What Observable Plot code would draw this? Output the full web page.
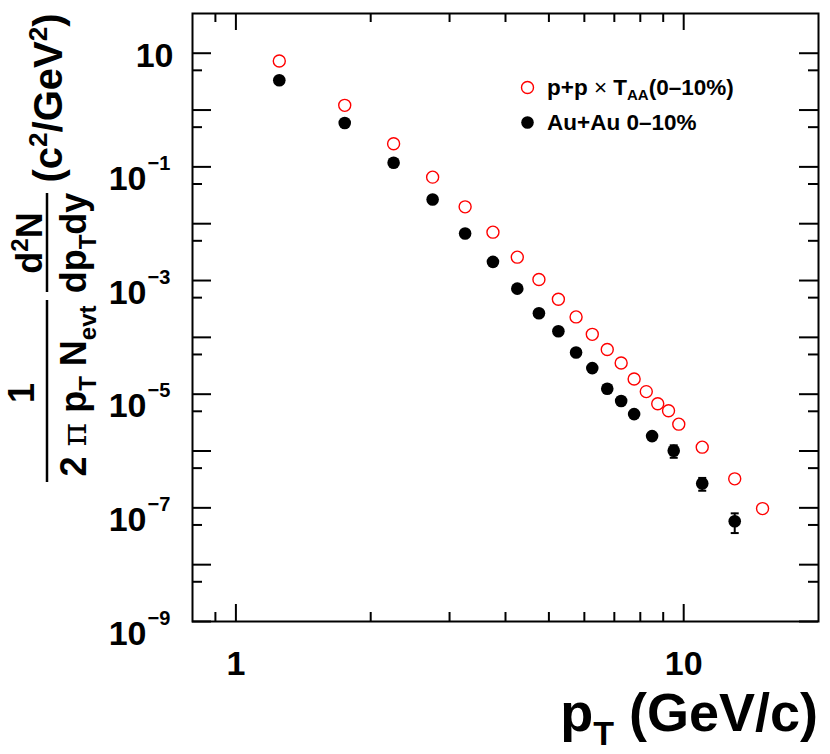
<!DOCTYPE html>
<html><head><meta charset="utf-8">
<script src="https://cdn.jsdelivr.net/npm/d3@7"></script>
<script src="https://cdn.jsdelivr.net/npm/@observablehq/plot@0.6"></script>
<style>body{margin:0;background:#fff}svg{display:block}</style>
</head><body><div id="chart"></div>
<script>
// ---- data ----
const ppPt    = [1.25,1.75,2.25,2.75,3.25,3.75,4.25,4.75,5.25,5.75,6.25,6.75,7.25,7.75,8.25,8.75,9.25,9.75,11,13,15];
const ppYield = [7.3,1.21,0.255,0.066,0.0198,0.0071,0.00258,0.00104,4.68e-4,2.29e-4,1.13e-4,6.1e-5,3.53e-5,1.85e-5,1.11e-5,6.8e-6,5.1e-6,2.97e-6,1.17e-6,3.24e-7,9.7e-8];
const auPt    = [1.25,1.75,2.25,2.75,3.25,3.75,4.25,4.75,5.25,5.75,6.25,6.75,7.25,7.75,8.5,9.5,11,13];
const auYield = [3.34,0.59,0.118,0.0267,0.00673,0.00213,7.2e-4,2.65e-4,1.28e-4,5.4e-5,2.88e-5,1.25e-5,7.6e-6,4.46e-6,1.83e-6,1.01e-6,2.68e-7,5.8e-8];
const auErr   = [0,0,0,0,0,0,0,0,0,0,0,0,0,0,0,2.5e-7,6.8e-8,2.2e-8];
const xMajorTicks = [1,10];
const xMinorTicks = [0.9,2,3,4,5,6,7,8,9];
const xTickLabels = ["1","10"];
const yMajorTicks = [1e-9,1e-8,1e-7,1e-6,1e-5,1e-4,1e-3,1e-2,1e-1,1,10];
const yMinorTicks = [5e-9,5e-8,5e-7,5e-6,5e-5,5e-4,5e-3,5e-2,5e-1,5];
const yLabelExps  = [-9,-7,-5,-3,-1];
const legendLabels = ["p+p × T", "Au+Au 0–10%"];

const pp = ppPt.map((x,i)=>({x, y: ppYield[i]}));
const au = auPt.map((x,i)=>({x, y: auYield[i], e: auErr[i]}));
const auE = au.filter(d=>d.e>0);
const yLab = yLabelExps.map(e=>({v: Math.pow(10,e), sup: "−"+(-e)}));

const W=830, H=754, mL=192, mR=12, mT=13, mB=133;
const fw=W-mL-mR, fh=H-mT-mB;
const FONT="'Liberation Sans', Arial, Helvetica, sans-serif";
const capSym = {draw(c){ c.moveTo(-4,0); c.lineTo(4,0); }};

const chart = Plot.plot({
  width: W, height: H, marginLeft: mL, marginRight: mR, marginTop: mT, marginBottom: mB,
  x: {type:"log", domain:[0.8,20], axis:null},
  y: {type:"log", domain:[1e-9,50], axis:null},
  style: {fontFamily: FONT, fontWeight: "bold", background: "white", overflow: "visible", color: "black"},
  marks: [
    // ticks (inside frame, all four sides)
    Plot.ruleX(xMajorTicks, {x: d=>d, insetTop: fh-17, strokeWidth: 2}),
    Plot.ruleX(xMinorTicks, {x: d=>d, insetTop: fh-9, strokeWidth: 2}),
    Plot.ruleX(xMajorTicks, {x: d=>d, insetBottom: fh-17, strokeWidth: 2}),
    Plot.ruleX(xMinorTicks, {x: d=>d, insetBottom: fh-9, strokeWidth: 2}),
    Plot.ruleY(yMajorTicks, {y: d=>d, insetRight: fw-19, strokeWidth: 2}),
    Plot.ruleY(yMinorTicks, {y: d=>d, insetRight: fw-10, strokeWidth: 2}),
    Plot.ruleY(yMajorTicks, {y: d=>d, insetLeft: fw-19, strokeWidth: 2}),
    Plot.ruleY(yMinorTicks, {y: d=>d, insetLeft: fw-10, strokeWidth: 2}),
    Plot.frame({stroke: "black", strokeWidth: 2}),
    // tick labels
    Plot.text(xMajorTicks, {x: d=>d, frameAnchor: "bottom", dy: 53, lineAnchor: "bottom",
      text: (d,i)=>xTickLabels[i], fontSize: 34, textAnchor: "middle"}),
    Plot.text([10], {y: d=>d, frameAnchor: "left", dx: -19, dy: 14, lineAnchor: "bottom",
      text: ()=>"10", fontSize: 34, textAnchor: "end"}),
    Plot.text(yLab, {y: "v", frameAnchor: "left", dx: -46, dy: 23, lineAnchor: "bottom",
      text: ()=>"10", fontSize: 34, textAnchor: "end"}),
    Plot.text(yLab, {y: "v", frameAnchor: "left", dx: -45, dy: 3, lineAnchor: "bottom",
      text: "sup", fontSize: 20, textAnchor: "start"}),
    // error bars
    Plot.ruleX(auE, {x: "x", y1: d=>d.y-d.e, y2: d=>d.y+d.e, strokeWidth: 2}),
    Plot.dot(auE, {x: "x", y: d=>d.y-d.e, symbol: capSym, stroke: "black", strokeWidth: 2, r: 4}),
    Plot.dot(auE, {x: "x", y: d=>d.y+d.e, symbol: capSym, stroke: "black", strokeWidth: 2, r: 4}),
    // data
    Plot.dot(pp, {x: "x", y: "y", r: 6, stroke: "#ff0000", strokeWidth: 1.4, fill: "none"}),
    Plot.dot(au, {x: "x", y: "y", r: 6.3, fill: "black", stroke: "none"}),
    // legend markers
    Plot.dot([0], {frameAnchor: "top-left", dx: 527-mL, dy: 87-mT, r: 6, stroke: "#ff0000", strokeWidth: 1.4, fill: "none"}),
    Plot.dot([0], {frameAnchor: "top-left", dx: 527-mL, dy: 122-mT, r: 6.3, fill: "black", stroke: "none"})
  ]
});
document.getElementById("chart").appendChild(chart);

const svg = d3.select(chart);
// legend labels
const l1 = svg.append("text").attr("x", 547).attr("y", 95).attr("text-anchor","start").attr("font-size", 22.5).attr("font-weight","bold").attr("font-family", FONT);
l1.append("tspan").text("p+p ");
l1.append("tspan").attr("font-weight","normal").text("×");
l1.append("tspan").text(" T");
l1.append("tspan").attr("font-size", 15).attr("dy", 5).text("AA");
l1.append("tspan").attr("dy", -5).text("(0–10%)");
svg.append("text").attr("x", 547).attr("y", 130).attr("text-anchor","start").attr("font-size", 22.5).attr("font-weight","bold").attr("font-family", FONT).text(legendLabels[1]);

// x-axis title
const xt = svg.append("text").attr("x", 818).attr("y", 731).attr("text-anchor","end").attr("font-size", 54).attr("font-weight","bold").attr("font-family", FONT);
xt.append("tspan").text("p");
xt.append("tspan").attr("font-size", 34).attr("dy", 14).text("T");
xt.append("tspan").attr("dy", -14).text(" (GeV/c)");

// y-axis title (rotated)
function rtext(x, y, size){
  return svg.append("text").attr("transform", `translate(${x},${y}) rotate(-90)`).attr("text-anchor","middle")
    .attr("font-size", size).attr("font-weight","bold").attr("font-family", FONT);
}
rtext(34, 393, 36).text("1");
svg.append("line").attr("x1",47).attr("x2",47).attr("y1",300).attr("y2",482).attr("stroke","black").attr("stroke-width",2.5);
const den1 = rtext(86, 391, 36);
den1.append("tspan").text("2 ");
den1.append("tspan").attr("font-family","'DejaVu Serif', serif").attr("font-weight","normal").text("π");
den1.append("tspan").text(" p");
den1.append("tspan").attr("font-size", 24).attr("dy", 10).text("T");
den1.append("tspan").attr("dy", -10).text(" N");
den1.append("tspan").attr("font-size", 24).attr("dy", 10).text("evt");
const num2 = rtext(42, 243, 36);
num2.append("tspan").text("d");
num2.append("tspan").attr("font-size", 24).attr("dy", -14).text("2");
num2.append("tspan").attr("dy", 14).text("N");
svg.append("line").attr("x1",47).attr("x2",47).attr("y1",193).attr("y2",292).attr("stroke","black").attr("stroke-width",2.5);
const den2 = rtext(86, 243, 36);
den2.append("tspan").text("dp");
den2.append("tspan").attr("font-size", 24).attr("dy", 10).text("T");
den2.append("tspan").attr("dy", -10).text("dy");
const un = rtext(62, 98, 40);
un.append("tspan").text("(c");
un.append("tspan").attr("font-size", 26).attr("dy", -15).text("2");
un.append("tspan").attr("dy", 15).text("/GeV");
un.append("tspan").attr("font-size", 26).attr("dy", -15).text("2");
un.append("tspan").attr("dy", 15).text(")");
</script></body></html>
